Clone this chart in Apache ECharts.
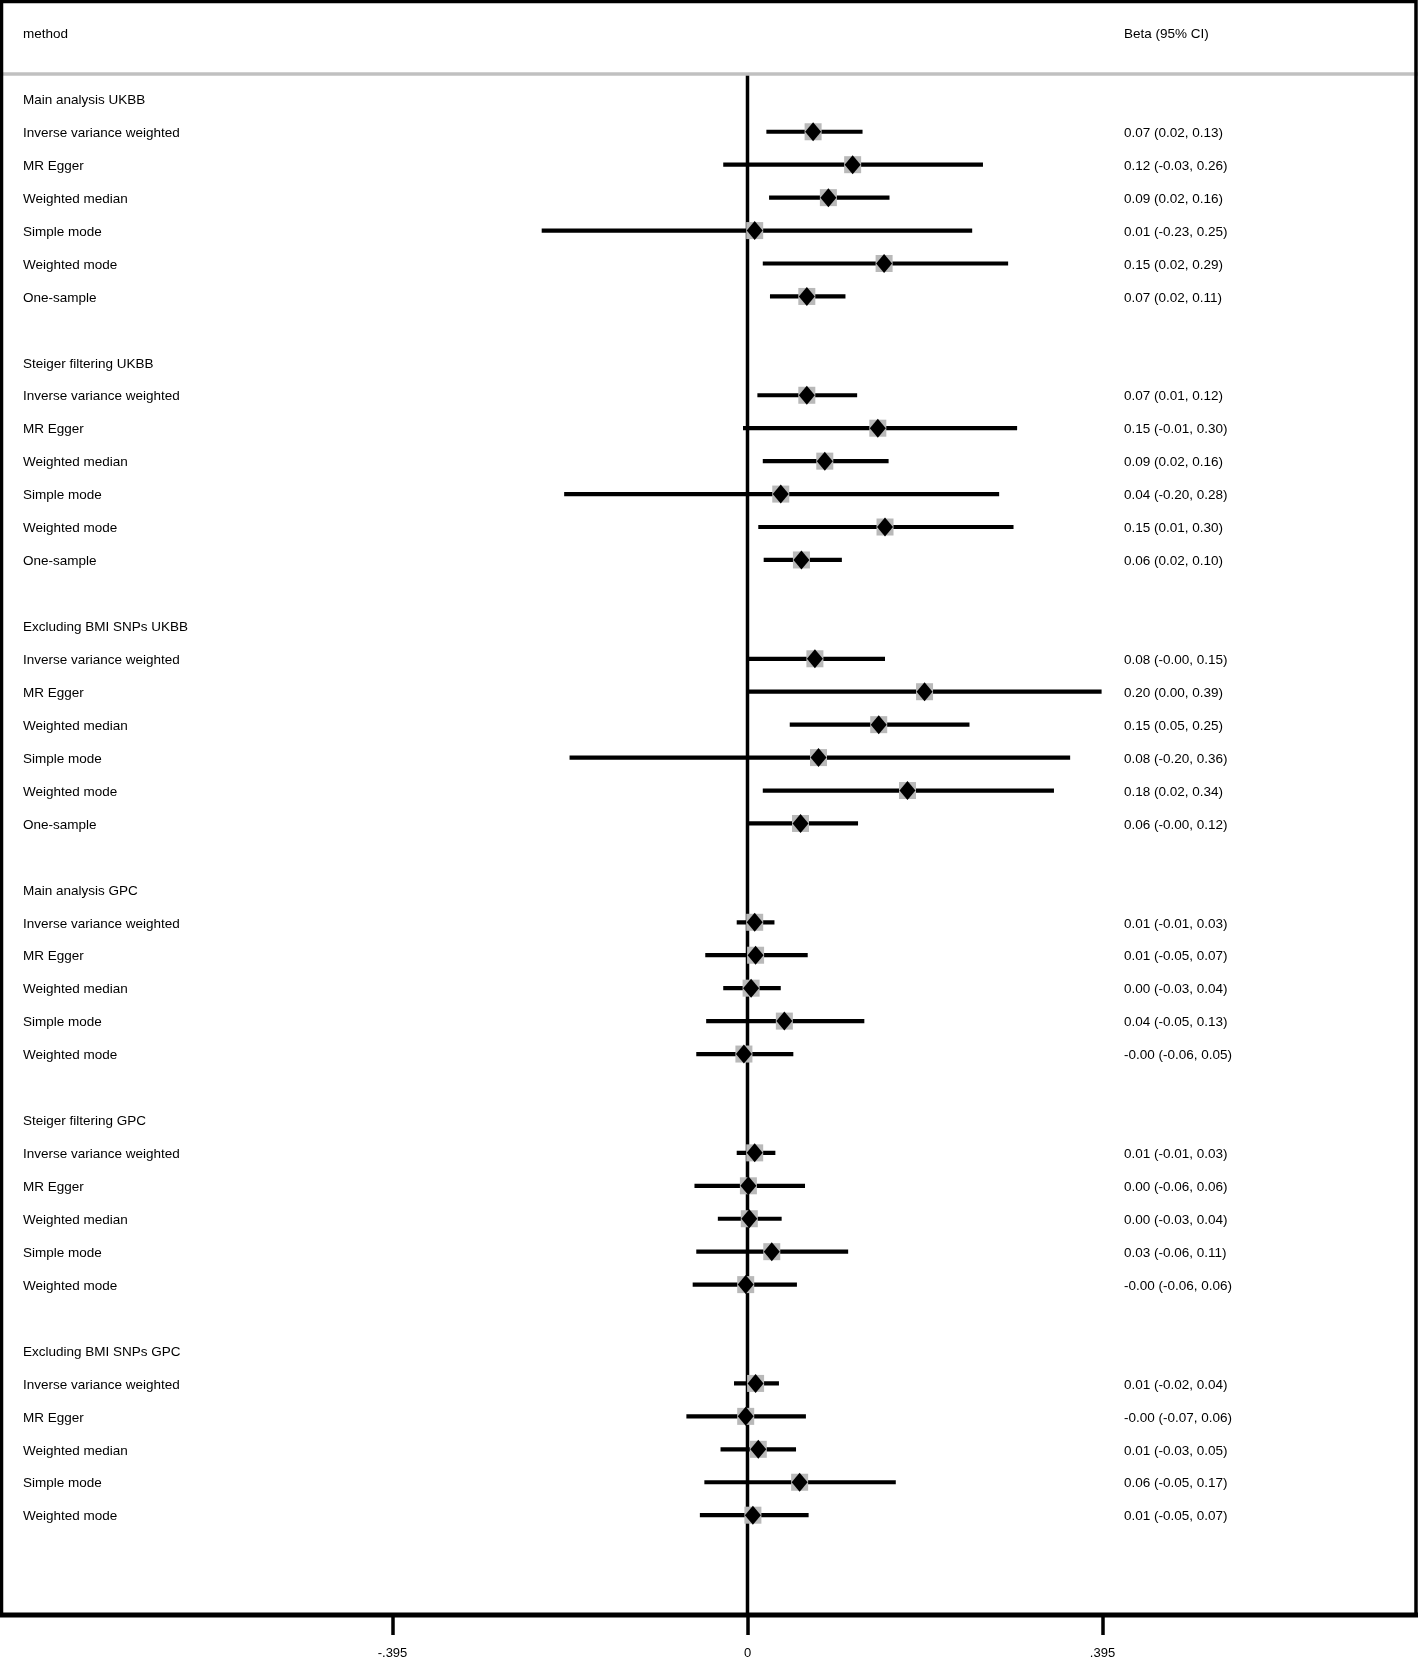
<!DOCTYPE html>
<html>
<head>
<meta charset="utf-8">
<script src="https://cdn.jsdelivr.net/npm/echarts@6/dist/echarts.min.js"></script>
<style>
html,body{margin:0;padding:0;background:#fff;}
#chart{width:1418px;height:1660px;}
</style>
</head>
<body>
<div id="chart"></div>
<script>
// ---- data ----
const headerLeft = "method";
const headerRight = "Beta (95% CI)";
const rowLabels = [
  "Main analysis UKBB","Inverse variance weighted","MR Egger","Weighted median","Simple mode","Weighted mode","One-sample","",
  "Steiger filtering UKBB","Inverse variance weighted","MR Egger","Weighted median","Simple mode","Weighted mode","One-sample","",
  "Excluding BMI SNPs UKBB","Inverse variance weighted","MR Egger","Weighted median","Simple mode","Weighted mode","One-sample","",
  "Main analysis GPC","Inverse variance weighted","MR Egger","Weighted median","Simple mode","Weighted mode","",
  "Steiger filtering GPC","Inverse variance weighted","MR Egger","Weighted median","Simple mode","Weighted mode","",
  "Excluding BMI SNPs GPC","Inverse variance weighted","MR Egger","Weighted median","Simple mode","Weighted mode"
];
const beta = [
  null,0.073,0.117,0.090,0.008,0.152,0.066,null,
  null,0.066,0.145,0.086,0.037,0.153,0.060,null,
  null,0.075,0.197,0.146,0.079,0.178,0.059,null,
  null,0.008,0.009,0.004,0.041,-0.004,null,
  null,0.008,0.001,0.002,0.027,-0.002,null,
  null,0.009,-0.002,0.012,0.058,0.006
];
const lower = [
  null,0.021,-0.027,0.024,-0.229,0.017,0.025,null,
  null,0.011,-0.005,0.017,-0.204,0.012,0.018,null,
  null,0.000,0.001,0.047,-0.198,0.017,0.000,null,
  null,-0.012,-0.047,-0.027,-0.046,-0.057,null,
  null,-0.012,-0.059,-0.033,-0.057,-0.061,null,
  null,-0.015,-0.068,-0.030,-0.048,-0.053
];
const upper = [
  null,0.128,0.262,0.158,0.250,0.290,0.109,null,
  null,0.122,0.300,0.157,0.280,0.296,0.105,null,
  null,0.153,0.394,0.247,0.359,0.341,0.123,null,
  null,0.030,0.067,0.037,0.130,0.051,null,
  null,0.031,0.064,0.038,0.112,0.055,null,
  null,0.035,0.065,0.054,0.165,0.068
];
const ciText = [
  null,"0.07 (0.02, 0.13)","0.12 (-0.03, 0.26)","0.09 (0.02, 0.16)","0.01 (-0.23, 0.25)","0.15 (0.02, 0.29)","0.07 (0.02, 0.11)",null,
  null,"0.07 (0.01, 0.12)","0.15 (-0.01, 0.30)","0.09 (0.02, 0.16)","0.04 (-0.20, 0.28)","0.15 (0.01, 0.30)","0.06 (0.02, 0.10)",null,
  null,"0.08 (-0.00, 0.15)","0.20 (0.00, 0.39)","0.15 (0.05, 0.25)","0.08 (-0.20, 0.36)","0.18 (0.02, 0.34)","0.06 (-0.00, 0.12)",null,
  null,"0.01 (-0.01, 0.03)","0.01 (-0.05, 0.07)","0.00 (-0.03, 0.04)","0.04 (-0.05, 0.13)","-0.00 (-0.06, 0.05)",null,
  null,"0.01 (-0.01, 0.03)","0.00 (-0.06, 0.06)","0.00 (-0.03, 0.04)","0.03 (-0.06, 0.11)","-0.00 (-0.06, 0.06)",null,
  null,"0.01 (-0.02, 0.04)","-0.00 (-0.07, 0.06)","0.01 (-0.03, 0.05)","0.06 (-0.05, 0.17)","0.01 (-0.05, 0.07)"
];
const xTicks = [-0.395, 0, 0.395];
const xTickLabels = ["-.395", "0", ".395"];

// ---- build ----
const FONT = '"Liberation Sans", Arial, Helvetica, sans-serif';
const LEFT_X = 23, RIGHT_X = 1124, TEXT_DY = 1.5;

const estData = [];
const textData = [[-2, headerLeft, headerRight]];
rowLabels.forEach((lab, i) => {
  if (beta[i] !== null) estData.push([beta[i], i, lower[i], upper[i]]);
  if (lab || ciText[i]) textData.push([i, lab, ciText[i] || ""]);
});

const chart = echarts.init(document.getElementById('chart'), null, {renderer: 'canvas'});
chart.setOption({
  animation: false,
  backgroundColor: '#ffffff',
  grid: {left: 392.5, right: 315.5, top: 0, bottom: 45, containLabel: false},
  xAxis: {
    type: 'value', min: xTicks[0], max: xTicks[2], interval: 0.395, position: 'bottom',
    axisLine: {show: false, onZero: false},
    splitLine: {show: false},
    axisTick: {show: true, inside: false, length: 21, lineStyle: {color: '#000', width: 3.5}},
    axisLabel: {
      margin: 33, color: '#000', fontSize: 13, fontFamily: FONT,
      formatter: v => { const k = xTicks.findIndex(t => Math.abs(t - v) < 1e-6); return k >= 0 ? xTickLabels[k] : ''; }
    }
  },
  yAxis: {type: 'value', inverse: true, min: -3, max: 46, show: false},
  graphic: [
    {type: 'rect', z: 10, silent: true, shape: {x: 1.5, y: 1.5, width: 1414.5, height: 1613.5},
      style: {fill: 'none', stroke: '#000', lineWidth: 3.5}},
    {type: 'line', z: 11, silent: true, shape: {x1: 0, y1: 1615, x2: 1418, y2: 1615},
      style: {stroke: '#000', lineWidth: 5}},
    {type: 'line', z: 9, silent: true, shape: {x1: 3, y1: 74, x2: 1418, y2: 74},
      style: {stroke: '#c0c0c0', lineWidth: 3.5}}
  ],
  series: [
    {
      type: 'line', data: [[0, -0.75], [0, 46]], symbol: 'none', silent: true,
      lineStyle: {color: '#000', width: 3.5}, z: 2
    },
    {
      type: 'custom', data: estData, encode: {x: 0, y: 1}, clip: false, z: 3,
      renderItem: (params, api) => {
        const row = api.value(1);
        const c = api.coord([api.value(0), row]);
        const a = api.coord([api.value(2), row]);
        const b = api.coord([api.value(3), row]);
        return {type: 'group', children: [
          {type: 'line', shape: {x1: a[0], y1: a[1], x2: b[0], y2: b[1]}, style: {stroke: '#000', lineWidth: 4.2}},
          {type: 'rect', shape: {x: c[0] - 8.5, y: c[1] - 8.5, width: 17, height: 17}, style: {fill: '#b9b9b9'}},
          {type: 'polygon', shape: {points: [[c[0], c[1] - 9.5], [c[0] + 8, c[1]], [c[0], c[1] + 9.5], [c[0] - 8, c[1]]]}, style: {fill: '#000'}}
        ]};
      }
    },
    {
      type: 'custom', data: textData.map(d => [0, d[0]]), encode: {x: 0, y: 1}, clip: false, z: 4,
      renderItem: (params, api) => {
        const d = textData[params.dataIndex];
        const y = api.coord([0, d[0]])[1] + TEXT_DY;
        const kids = [];
        if (d[1]) kids.push({type: 'text', style: {text: d[1], x: LEFT_X, y: y, fill: '#000', fontSize: 13.5, fontFamily: FONT, align: 'left', verticalAlign: 'middle'}});
        if (d[2]) kids.push({type: 'text', style: {text: d[2], x: RIGHT_X, y: y, fill: '#000', fontSize: 13.5, fontFamily: FONT, align: 'left', verticalAlign: 'middle'}});
        return {type: 'group', children: kids};
      }
    }
  ]
});
</script>
</body>
</html>
